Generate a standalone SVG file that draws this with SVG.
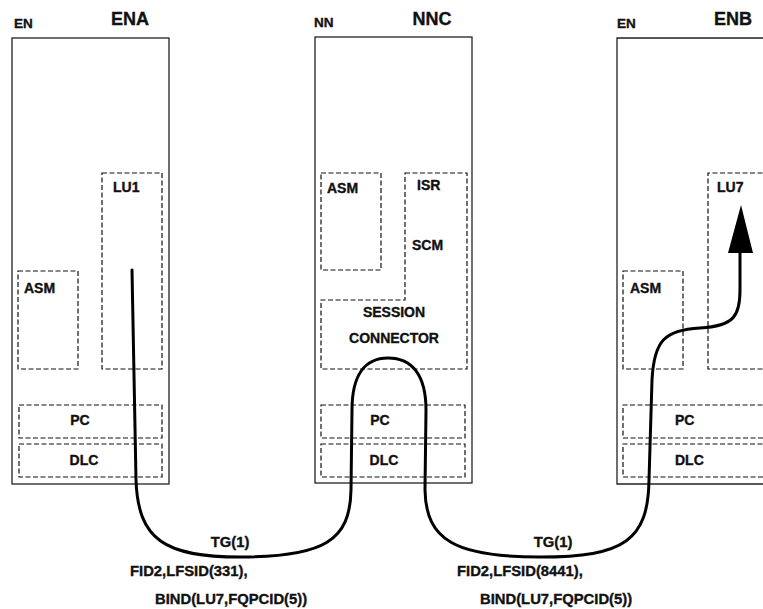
<svg xmlns="http://www.w3.org/2000/svg" width="763" height="609" viewBox="0 0 763 609">
<style>
text{font-family:"Liberation Sans",Arial,sans-serif;font-weight:bold;fill:#111;stroke:#111;stroke-width:0.35;}
.outer{fill:none;stroke:#222;stroke-width:1.3;}
.dash{fill:none;stroke:#111;stroke-width:1.2;stroke-dasharray:5,2.5;}
.lbl{font-size:14px;}
.sm{font-size:13.5px;}
.big{font-size:18px;}
.cap{font-size:14.8px;}
.flow{fill:none;stroke:#000;stroke-width:3;stroke-linecap:round;}
</style>
<rect width="763" height="609" fill="#fff"/>
<g id="ENA">
<text class="sm" x="14" y="28">EN</text>
<text class="big" x="130" y="25" text-anchor="middle">ENA</text>
<rect class="outer" x="12" y="38" width="157" height="446"/>
<g id="ENA-LU1"><rect class="dash" x="102" y="173" width="60" height="196"/><text class="lbl" x="113" y="192">LU1</text></g>
<g id="ENA-ASM"><rect class="dash" x="18" y="271" width="60" height="98"/><text class="lbl" x="24" y="293">ASM</text></g>
<g id="ENA-PC"><rect class="dash" x="19" y="405" width="143" height="33"/><text class="lbl" x="80" y="425" text-anchor="middle">PC</text></g>
<g id="ENA-DLC"><rect class="dash" x="19" y="444" width="143" height="33"/><text class="lbl" x="84" y="465" text-anchor="middle">DLC</text></g>
</g>
<g id="NNC">
<text class="sm" x="314" y="27">NN</text>
<text class="big" x="432" y="25" text-anchor="middle">NNC</text>
<rect class="outer" x="315" y="37" width="157" height="446"/>
<g id="NNC-ASM"><rect class="dash" x="321" y="173" width="60" height="97"/><text class="lbl" x="327" y="193">ASM</text></g>
<g id="NNC-ISR"><polygon class="dash" points="405,173 467,173 467,369 321,369 321,300 405,300"/>
<text class="lbl" x="417" y="190">ISR</text>
<text class="lbl" x="412" y="250">SCM</text>
<text class="lbl" x="394" y="317" text-anchor="middle">SESSION</text>
<text class="lbl" x="394" y="343" text-anchor="middle">CONNECTOR</text></g>
<g id="NNC-PC"><rect class="dash" x="321" y="405" width="144" height="33"/><text class="lbl" x="380" y="425" text-anchor="middle">PC</text></g>
<g id="NNC-DLC"><rect class="dash" x="321" y="444" width="144" height="33"/><text class="lbl" x="384" y="465" text-anchor="middle">DLC</text></g>
</g>
<g id="ENB">
<text class="sm" x="617" y="28">EN</text>
<text class="big" x="733" y="25" text-anchor="middle">ENB</text>
<polyline class="outer" points="770,38 617,38 617,484 770,484"/>
<g id="ENB-LU7"><polyline class="dash" points="770,173 708,173 708,369 770,369"/><text class="lbl" x="717" y="192">LU7</text></g>
<g id="ENB-ASM"><rect class="dash" x="623" y="271" width="60" height="98"/><text class="lbl" x="630" y="293">ASM</text></g>
<g id="ENB-PC"><polyline class="dash" points="770,405 623,405 623,438 770,438"/><text class="lbl" x="675" y="425">PC</text></g>
<g id="ENB-DLC"><polyline class="dash" points="770,444 623,444 623,477 770,477"/><text class="lbl" x="675" y="465">DLC</text></g>
</g>
<g id="connectors">
<path class="flow" d="M132,270 L136,480 C138,540 165,557 240,557 C325,557 350,540 351,490 L352,410 C352,375 365,358 388,358 C412,358 426,375 426,410 L425,490 C426,540 455,557 540,557 C625,557 648,540 649,480 L652,380 C654,340 665,330 700,328 C735,326 740,315 740,290 L740,250"/>
<polygon points="741,205 728,253 753,253" fill="#000"/>
</g>
<g id="labels">
<text class="cap" x="230" y="547" text-anchor="middle">TG(1)</text>
<text class="cap" x="130" y="576">FID2,LFSID(331),</text>
<text class="cap" x="155" y="604">BIND(LU7,FQPCID(5))</text>
<text class="cap" x="553" y="547" text-anchor="middle">TG(1)</text>
<text class="cap" x="457" y="576">FID2,LFSID(8441),</text>
<text class="cap" x="480" y="604">BIND(LU7,FQPCID(5))</text>
</g>
</svg>
